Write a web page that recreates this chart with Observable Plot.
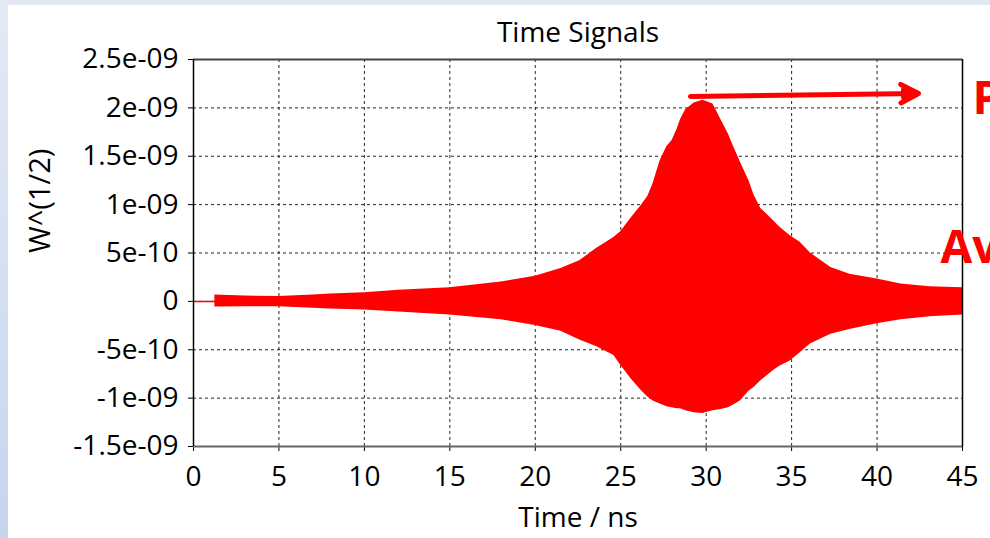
<!DOCTYPE html>
<html>
<head>
<meta charset="utf-8">
<script src="https://cdn.jsdelivr.net/npm/d3@7"></script>
<script src="https://cdn.jsdelivr.net/npm/@observablehq/plot@0.6"></script>
<style>
  html, body { margin: 0; padding: 0; width: 990px; height: 538px; overflow: hidden; background: #ffffff; }
  #topband { position: absolute; left: 0; top: 0; width: 990px; height: 5px; background: #e2e8f3; }
  #leftband { position: absolute; left: 0; top: 0; width: 8px; height: 538px; background: linear-gradient(#e4eaf5, #c6d5ee); }
  #chart { position: absolute; left: 0; top: 0; }
</style>
</head>
<body>
<div id="topband"></div>
<div id="leftband"></div>
<div id="chart"></div>
<script>
// ---- texts ----
const title = "Time Signals";
const xLabel = "Time / ns";
const yLabel = "W^(1/2)";

// ---- axes ----
const xTicks = [0, 5, 10, 15, 20, 25, 30, 35, 40, 45];
const yTicks = [-1.5e-9, -1e-9, -5e-10, 0, 5e-10, 1e-9, 1.5e-9, 2e-9, 2.5e-9];
const yTickLabels = ["-1.5e-09", "-1e-09", "-5e-10", "0", "5e-10", "1e-09", "1.5e-09", "2e-09", "2.5e-09"];
const xGrid = [5, 10, 15, 20, 25, 30, 35, 40];
const yGrid = [-1e-9, -5e-10, 0, 5e-10, 1e-9, 1.5e-9, 2e-9];

// ---- signal envelope, amplitude in units of 1e-9 W^(1/2) ----
const unit = 1e-9;
const time  = [1.25, 3, 5, 7, 8, 10, 12, 15, 18, 20, 21.5, 22.6, 23.6, 24.6, 25, 25.6, 26.2, 26.6, 26.9, 27.3, 27.7, 28.0, 28.3, 28.5, 28.8, 29.3, 29.8, 30.4, 30.8, 31.3, 31.6, 32.0, 32.5, 32.8, 33.2, 33.9, 34.3, 34.9, 35.5, 36.1, 37.3, 38.4, 40, 41.4, 43.1, 45];
const upper = [0.065, 0.055, 0.050, 0.065, 0.075, 0.088, 0.115, 0.14, 0.20, 0.26, 0.34, 0.42, 0.55, 0.66, 0.72, 0.86, 0.99, 1.09, 1.22, 1.45, 1.60, 1.66, 1.78, 1.88, 1.98, 2.05, 2.08, 2.04, 1.90, 1.73, 1.60, 1.44, 1.25, 1.10, 0.96, 0.84, 0.77, 0.68, 0.61, 0.50, 0.35, 0.28, 0.23, 0.18, 0.15, 0.14];
const lower = [-0.057, -0.055, -0.055, -0.07, -0.078, -0.09, -0.11, -0.14, -0.19, -0.25, -0.31, -0.40, -0.47, -0.56, -0.66, -0.80, -0.92, -0.99, -1.03, -1.06, -1.09, -1.10, -1.11, -1.11, -1.13, -1.15, -1.16, -1.13, -1.12, -1.10, -1.07, -1.03, -0.93, -0.89, -0.82, -0.72, -0.67, -0.62, -0.53, -0.44, -0.34, -0.29, -0.23, -0.19, -0.16, -0.14];

// flat lead-in before the signal starts
const leadTime = [0, 1.25];
const leadValue = [0, 0];

// ---- annotations ----
const arrowStart = [29.08, 2.118e-9];
const arrowEnd = [42.43, 2.149e-9];
const noteLabels = ["P", "Av"];
const noteX = [45.58, 43.71];
const noteY = [2.094e-9, 0.554e-9];

const env = time.map((t, i) => ({t, hi: upper[i] * unit, lo: lower[i] * unit}));
const lead = leadTime.map((t, i) => ({t, v: leadValue[i]}));
const arrows = [{x1: arrowStart[0], y1: arrowStart[1], x2: arrowEnd[0], y2: arrowEnd[1]}];
const notes = noteLabels.map((label, i) => ({label, x: noteX[i], y: noteY[i]}));

const font = "'Open Sans', 'DejaVu Sans', sans-serif";
const arrowOpts = {x1: "x1", y1: "y1", x2: "x2", y2: "y2", stroke: "#ff0000"};
// layered arrow heads so that the head reads as a filled triangle
const headAngles = [55, 46, 38, 30, 22, 14, 6];

const chart = Plot.plot({
  width: 990,
  height: 538,
  marginLeft: 193,
  marginRight: 28,
  marginTop: 59,
  marginBottom: 92,
  style: {fontFamily: font, fontSize: "28px", color: "black", background: "transparent"},
  x: {domain: [0, 45], ticks: xTicks, tickSize: 5, tickPadding: 15, tickFormat: d => String(d), label: null},
  y: {domain: [-1.5e-9, 2.5e-9], ticks: yTicks, tickSize: 5, tickPadding: 10,
      tickFormat: d => yTickLabels[yTicks.indexOf(d)], label: null},
  marks: [
    Plot.ruleX(xGrid, {stroke: "black", strokeWidth: 1, strokeDasharray: "3,3", strokeOpacity: 0.85}),
    Plot.ruleY(yGrid, {stroke: "black", strokeWidth: 1, strokeDasharray: "3,3", strokeOpacity: 0.85}),
    Plot.areaY(env, {x: "t", y1: "lo", y2: "hi", fill: "#ff0000", curve: "linear"}),
    Plot.line(lead, {x: "t", y: "v", stroke: "#ff0000", strokeWidth: 1.5}),
    Plot.ruleY([2.5e-9], {stroke: "#444", strokeWidth: 2}),
    Plot.ruleY([-1.5e-9], {stroke: "#666", strokeWidth: 2}),
    Plot.ruleX([0], {stroke: "black", strokeWidth: 1.5}),
    Plot.ruleX([45], {stroke: "black", strokeWidth: 1.5}),
    Plot.arrow(arrows, {...arrowOpts, strokeWidth: 5, headLength: 6, headAngle: 55}),
    ...headAngles.map(a => Plot.arrow(arrows, {...arrowOpts, strokeWidth: 2.5, headLength: 10, headAngle: a})),
    Plot.text([title], {frameAnchor: "top", lineAnchor: "middle", dy: -26, fontSize: 28, fill: "black"}),
    Plot.text([xLabel], {frameAnchor: "bottom", lineAnchor: "middle", dy: 72, fontSize: 28, fill: "black"}),
    Plot.text([yLabel], {frameAnchor: "left", lineAnchor: "middle", dx: -153, rotate: -90, fontSize: 29, fill: "black"}),
    Plot.text(notes, {x: "x", y: "y", text: "label", textAnchor: "start", lineAnchor: "middle", fill: "#ff0000",
      fontWeight: "bold", fontSize: 46})
  ]
});
document.getElementById("chart").appendChild(chart);
</script>
</body>
</html>
